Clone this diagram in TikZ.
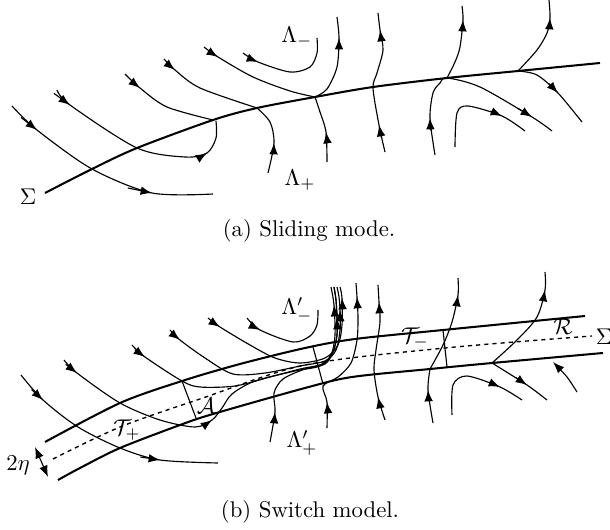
\documentclass[tikz,border=0pt]{standalone}
\usepackage{tikz}
\usetikzlibrary{arrows.meta, calc}

% arrow head on a trajectory: previous point, tip point, next point
\newcommand{\flowtip}[3]{\draw[traj, -{Latex[length=5pt,width=3.8pt]}] ($(#2)+0.2*(#1)-0.2*(#3)$) -- (#2);}

\begin{document}
\begin{tikzpicture}[x=0.44pt, y=-0.44pt,
    traj/.style={line width=0.5pt},
    border/.style={line width=0.9pt},
    mid/.style={line width=0.6pt, dash pattern=on 1.8pt off 1.8pt},
  ]
  \useasboundingbox (0,0) rectangle (610,530);

  % (a) sliding mode
  \draw[border] plot[smooth] coordinates {(45,193) (92,169) (137,148) (213,120) (257,108) (315,97) (373,87) (447,78) (518,71) (600,63)};
  \node (sigA) at (28,197) {$\Sigma$};
  \node (lamMinus) at (297,37) {$\Lambda_-$};
  \node (lamPlus) at (300,180) {$\Lambda_+$};

  \draw[traj] plot[smooth] coordinates {(12,106) (37,130) (92,169) (152,193) (213,194)};
  \flowtip{12,106}{37,130}{92,169}
  \flowtip{92,169}{152,193}{213,194}
  \draw[traj] plot[smooth] coordinates {(57,90) (70,105) (137,148) (185,157) (207,153) (216,138) (216,121)};
  \flowtip{57,90}{70,105}{137,148}
  \flowtip{185,157}{207,153}{216,138}
  \draw[traj] plot[smooth] coordinates {(125,74) (140,88) (167,107) (213,120)};
  \flowtip{125,74}{140,88}{167,107}
  \draw[traj] plot[smooth] coordinates {(164,59) (175,70) (200,88) (257,108)};
  \flowtip{164,59}{175,70}{200,88}
  \draw[traj] plot[smooth] coordinates {(204,47) (218,57) (253,77) (290,91) (315,97)};
  \flowtip{204,47}{218,57}{253,77}
  \draw[traj] plot[smooth] coordinates {(315,97) (327,89) (337,67) (339,38) (337,17)};
  \flowtip{337,67}{339,38}{337,17}
  \draw[traj] plot[smooth] coordinates {(327,162) (326,132) (320,112) (315,97)};
  \flowtip{327,162}{326,132}{320,112}
  \draw[traj] plot[smooth] coordinates {(243,53) (258,62) (290,72) (310,67) (317,53) (317,38)};
  \flowtip{243,53}{258,62}{290,72}
  \draw[traj] plot[smooth] coordinates {(268,173) (274,143) (270,122) (257,108)};
  \flowtip{268,173}{274,143}{270,122}
  \draw[traj] plot[smooth] coordinates {(385,152) (379,125) (373,88) (377,73) (383,50) (380,30) (378,13)};
  \flowtip{385,152}{379,125}{373,88}
  \flowtip{383,50}{380,30}{378,13}
  \draw[traj] plot[smooth] coordinates {(435,155) (430,118) (433,93) (440,83) (447,78) (480,87) (532,117) (552,131)};
  \flowtip{435,155}{430,118}{433,93}
  \flowtip{480,87}{532,117}{552,131}
  \draw[traj] plot[smooth] coordinates {(447,78) (455,62) (460,47) (463,20) (462,6)};
  \flowtip{460,47}{463,20}{462,6}
  \draw[traj] plot[smooth] coordinates {(455,147) (457,113) (468,106) (502,116) (525,131)};
  \flowtip{468,106}{502,116}{525,131}
  \draw[traj] plot[smooth] coordinates {(518,71) (537,50) (547,33) (550,18) (549,0)};
  \flowtip{547,33}{550,18}{549,0}
  \draw[traj] plot[smooth] coordinates {(518,71) (537,75) (558,93) (582,122)};
  \flowtip{537,75}{558,93}{582,122}

  \node (capA) at (309,231) {(a) Sliding mode.};

  % (b) switch model
  \draw[border] plot[smooth] coordinates {(45,442) (120,403) (182,381) (240,364) (305,348) (355,339) (443,330) (585,316)};
  \draw[border] plot[smooth] coordinates {(58,480) (80,468) (120,448) (180,425) (213,414) (305,388) (352,377) (430,369) (492,363) (603,353)};
  \draw[mid] plot[smooth] coordinates {(53,459) (120,427) (200,399) (305,365) (445,348) (592,336)};
  \node (sigB) at (604,337) {$\Sigma$};

  \draw[traj] (182,381) -- (196,418);
  \draw[traj] (313,347) -- (323,384);
  \draw[traj] (443,330) -- (447,367);

  \node (setA) at (206,406) {$\mathcal{A}$};
  \node (tubePlus) at (127,430) {$\mathcal{T}_+$};
  \node (tubeMinus) at (415,338) {$\mathcal{T}_-$};
  \node (setR) at (563,327) {$\mathcal{R}$};
  \node (lamMinusB) at (297,310) {$\Lambda'_-$};
  \node (lamPlusB) at (302,443) {$\Lambda'_+$};

  \coordinate (etaTop) at (35,447);
  \coordinate (etaBot) at (48,477);
  \draw[traj, {Latex[length=5pt,width=3.8pt]}-{Latex[length=5pt,width=3.8pt]}] (etaTop) -- (etaBot);
  \node (eta) at (18,465) {$2\eta$};

  \draw[traj] plot[smooth] coordinates {(21,375) (43,400) (78,427) (120,448) (160,460) (218,463)};
  \flowtip{21,375}{43,400}{78,427}
  \flowtip{120,448}{160,460}{218,463}
  \draw[traj] plot[smooth] coordinates {(64,360) (77,373) (120,403) (160,420) (195,427) (212,420) (222,408) (232,394) (255,381) (295,371) (320,366) (331,355) (335,335) (334,305) (331,287)};
  \flowtip{64,360}{77,373}{120,403}
  \flowtip{195,427}{212,420}{222,408}
  \flowtip{335,335}{334,305}{331,287}
  \draw[traj] plot[smooth] coordinates {(132,345) (145,357) (182,381) (200,387) (235,386) (270,377) (300,369) (322,364) (333,352) (337,335) (337,318) (336,300) (334,287)};
  \flowtip{132,345}{145,357}{182,381}
  \flowtip{337,335}{337,318}{336,300}
  \draw[traj] plot[smooth] coordinates {(170,330) (180,340) (205,358) (233,374) (265,373) (300,366) (325,361) (336,350) (340,330) (340,310) (339,297) (337,287)};
  \flowtip{170,330}{180,340}{205,358}
  \flowtip{340,330}{340,310}{339,297}
  \draw[traj] plot[smooth] coordinates {(208,318) (220,327) (250,345) (275,358) (300,363) (325,358) (338,345) (342,325) (342,298) (340,287)};
  \flowtip{208,318}{220,327}{250,345}
  \flowtip{342,325}{342,298}{340,287}
  \draw[traj] plot[smooth] coordinates {(270,442) (275,412) (274,393) (283,379) (305,369) (325,364) (333,352) (337,335) (337,318) (336,300) (334,287)};
  \flowtip{270,442}{275,412}{274,393}
  \draw[traj] plot[smooth] coordinates {(247,318) (260,330) (293,342) (310,336) (317,325) (318,310)};
  \flowtip{247,318}{260,330}{293,342}
  \draw[traj] plot[smooth] coordinates {(327,428) (327,402) (323,386) (338,377) (351,363) (357,340) (358,318) (357,297) (356,283)};
  \flowtip{327,428}{327,402}{323,386}
  \flowtip{358,318}{357,297}{356,283}
  \draw[traj] plot[smooth] coordinates {(385,420) (378,397) (374,370) (376,350) (380,322) (379,302) (378,285)};
  \flowtip{385,420}{378,397}{374,370}
  \flowtip{380,322}{379,302}{378,285}
  \draw[traj] plot[smooth] coordinates {(433,423) (428,390) (430,369)};
  \flowtip{433,423}{428,390}{430,369}
  \draw[traj] plot[smooth] coordinates {(430,369) (443,345) (452,322) (458,295) (458,278)};
  \flowtip{452,322}{458,295}{458,278}
  \draw[traj] plot[smooth] coordinates {(452,415) (453,385) (467,376) (500,387) (522,400)};
  \flowtip{467,376}{500,387}{522,400}
  \draw[traj] plot[smooth] coordinates {(492,363) (517,340) (537,317) (545,290) (545,272)};
  \flowtip{537,317}{545,290}{545,272}
  \draw[traj] plot[smooth] coordinates {(492,363) (527,385) (547,400)};
  \flowtip{492,363}{527,385}{547,400}
  \draw[traj, -{Latex[length=5pt,width=3.8pt]}] plot[smooth] coordinates {(577,392) (567,377) (553,362)};

  \node (capB) at (310,512) {(b) Switch model.};
\end{tikzpicture}
\end{document}
